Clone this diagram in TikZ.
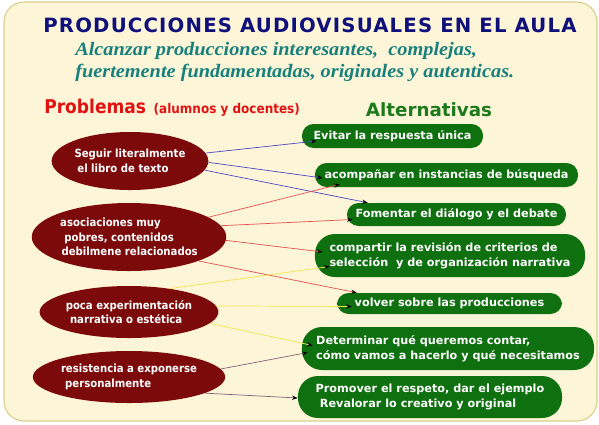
\documentclass[tikz,border=0pt]{standalone}
\usepackage{fontspec}
\setmainfont{DejaVu Sans}
\newfontfamily\condfont{DejaVu Sans Condensed}
\newfontfamily\subfont[FakeStretch=1.07]{Liberation Serif}
\newfontfamily\titlefont[LetterSpace=6]{DejaVu Sans}
\usetikzlibrary{positioning,shapes.geometric,arrows.meta,calc}
\definecolor{cream}{HTML}{FDF5D7}
\definecolor{rim}{HTML}{D8D08A}
\definecolor{probred}{HTML}{7D0A0A}
\definecolor{altgreen}{HTML}{0E700E}
\definecolor{titleblue}{HTML}{10107A}
\definecolor{subteal}{HTML}{18807C}
\definecolor{headred}{HTML}{E01212}
\definecolor{headgreen}{HTML}{1C7A1C}
\definecolor{lblue}{HTML}{4A4AC8}
\definecolor{lred}{HTML}{E65050}
\definecolor{lyellow}{HTML}{F2E64A}
\definecolor{lmauve}{HTML}{86607A}
\tikzset{x=0.025cm, y=-0.025cm,
  prob/.style={ellipse,fill=probred,text=white,inner sep=0pt,align=left,
    font=\condfont\bfseries\fontsize{8}{10.5}\selectfont},
  alt/.style={rectangle,fill=altgreen,text=white,inner sep=0pt,align=left,
    rounded corners=0.29cm,font=\bfseries\fontsize{8}{11}\selectfont},
  alttwo/.style={alt,rounded corners=0.5cm},
  link/.style={-{Stealth[length=4pt,width=3pt,color=black]},line width=0.5pt}}

\begin{document}
\begin{tikzpicture}
  \useasboundingbox (0,0) rectangle (599,424);
  \filldraw[fill=cream,draw=rim,line width=0.8pt,rounded corners=0.5cm] (4,2) rectangle (597,421);

  % titulos
  \node[text=titleblue,font=\titlefont\bfseries\fontsize{14}{16}\selectfont] (title) at (310,25) {PRODUCCIONES AUDIOVISUALES EN EL AULA};
  \node[text=subteal,align=left,anchor=base west,inner sep=0pt,
    font=\subfont\bfseries\itshape\fontsize{13.5}{15}\selectfont] (goal) at (75,77)
    {Alcanzar producciones interesantes,\ \ complejas,\\fuertemente fundamentadas, originales y autenticas.};
  \node[text=headred,anchor=base west,inner sep=0pt,font=\condfont\bfseries\fontsize{13.5}{16}\selectfont] (probs) at (44,113) {Problemas};
  \node[text=headred,inner sep=0pt,font=\condfont\bfseries\fontsize{9.5}{12}\selectfont] (who) [base right=0.175cm of probs] {(alumnos y docentes)};
  \node[text=headgreen,anchor=base,inner sep=0pt,font=\bfseries\fontsize{13}{15}\selectfont] (alts) at (429,116) {Alternativas};

  % problemas
  \node[prob,minimum width=3.15cm,minimum height=1.45cm] (p1) at (130,161) {Seguir literalmente\\\hspace*{2pt}el libro de texto};
  \node[prob,minimum width=4.3cm,minimum height=1.7cm] (p2) at (129,237) {asociaciones muy\\\hspace*{3pt}pobres, contenidos\\\hspace*{1pt}debilmene relacionados};
  \node[prob,minimum width=3.8cm,minimum height=1.3cm] (p3) at (129,312) {poca experimentación\\\hspace*{3pt}narrativa o estética};
  \node[prob,minimum width=4.0cm,minimum height=1.3cm] (p4) at (129,377) {resistencia a exponerse\\\hspace*{3pt}personalmente};

  % alternativas
  \node[alt,minimum width=4.525cm,minimum height=0.6cm] (a1) at (392.5,136) {Evitar la respuesta única};
  \node[alt,minimum width=6.575cm,minimum height=0.6cm] (a2) at (446.5,175) {acompañar en instancias de búsqueda};
  \node[alt,minimum width=5.475cm,minimum height=0.575cm] (a3) at (456.5,214.5) {Fomentar el diálogo y el debate};
  \node[alttwo,minimum width=6.75cm,minimum height=1.075cm] (a4) at (450,255.5) {compartir la revisión de criterios de\\selección\ \ y de organización narrativa};
  \node[alt,minimum width=5.625cm,minimum height=0.525cm] (a5) at (449.5,303.5) {volver sobre las producciones};
  \node[alttwo,minimum width=7.3cm,minimum height=1.075cm] (a6) at (448,348.5) {Determinar qué queremos contar,\\cómo vamos a hacerlo y qué necesitamos};
  \node[alttwo,minimum width=6.6cm,minimum height=1.05cm] (a7) at (430,397) {Promover el respeto, dar el ejemplo\\\hspace*{3pt}Revalorar lo creativo y original};

  % enlaces
  \draw[link,lblue] (p1.6) -- ($(a1.west)+(15,5)$);
  \draw[link,lblue] (p1.-1) -- ($(a2.west)+(8,3)$);
  \draw[link,lblue] (p1.-7) -- ($(a3.north west)+(21,0)$);
  \draw[link,lred] (p2.14) -- ($(a2.south west)+(25,-3)$);
  \draw[link,lred] (p2.7) -- ($(a3.west)+(6,5)$);
  \draw[link,lred] (p2.-2) -- ($(a4.west)+(8,-3.5)$);
  \draw[link,lred] (p2.-19) -- ($(a5.north west)+(20,0)$);
  \draw[link,lyellow] (p3.30) -- ($(a4.west)+(15,11)$);
  \draw[link,lyellow] (p3.4) -- ($(a5.west)+(15,3)$);
  \draw[link,lyellow] (p3.-8) -- ($(a6.west)+(11,-3)$);
  \draw[link,lmauve] (p4.5) -- ($(a6.west)+(6,4)$);
  \draw[link,lmauve] (p4.-12) -- ($(a7.west)+(0,1)$);
\end{tikzpicture}
\end{document}
